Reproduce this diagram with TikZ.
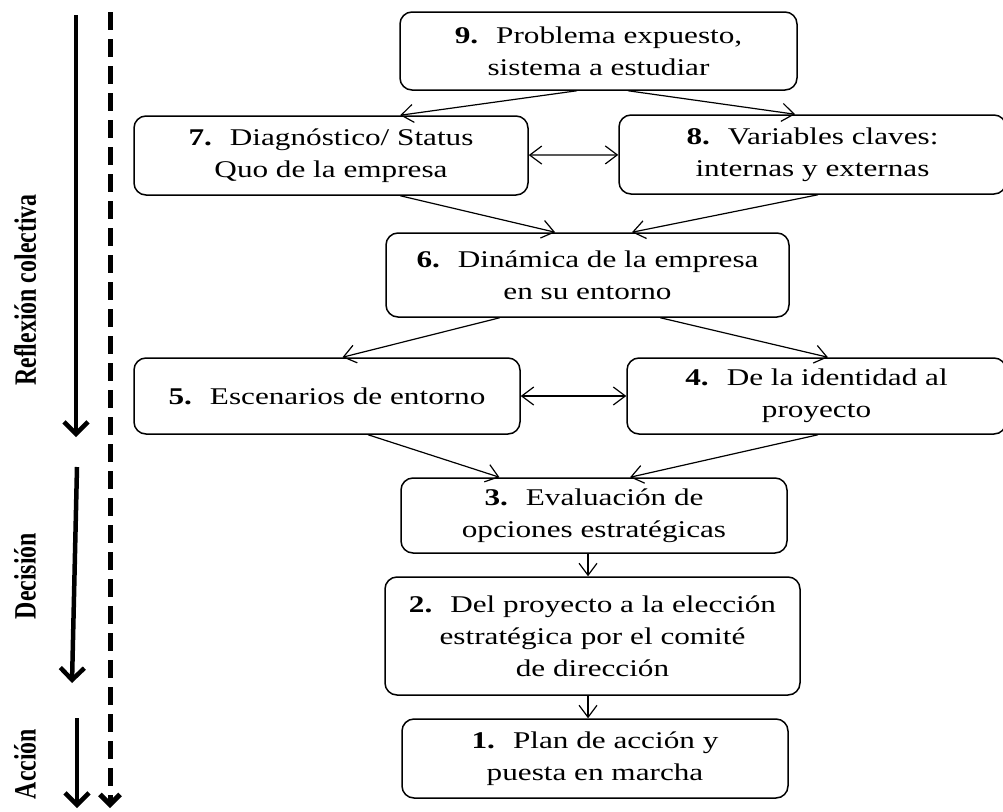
\documentclass[tikz,border=0pt]{standalone}
\usepackage{fontspec}
\setmainfont{Liberation Serif}
\newfontfamily\boxfont[FakeStretch=1.3]{Liberation Serif}
\newfontfamily\sidefont[FakeStretch=0.77]{Liberation Serif}
\usetikzlibrary{arrows.meta,positioning,calc}
\tikzset{
	stage/.style = {
		draw,
		rectangle,
		line width=1.5pt,
		rounded corners=12pt,
		align=center,
		inner sep=0pt,
		font=\boxfont\fontsize{24}{32}\selectfont
	},
	link/.style = {
		-{Straight Barb[length=12pt,width=18pt]},
		line width=1.2pt
	},
	twoway/.style = {
		{Straight Barb[length=12pt,width=18pt]}-{Straight Barb[length=12pt,width=18pt]},
		line width=1.2pt
	},
	phase/.style = {
		-{Straight Barb[length=12pt,width=24pt]},
		line width=4.5pt
	},
	track/.style = {
		-{Straight Barb[length=10pt,width=20pt]},
		line width=5pt,
		dash pattern=on 18pt off 9pt
	},
	phaselabel/.style = {
		rotate=90,
		font=\sidefont\bfseries\fontsize{31}{31}\selectfont
	}
}
\newcommand{\num}[1]{\textbf{#1}\hspace{18pt}}

\begin{document}
\begin{tikzpicture}[x=1pt,y=-1pt]
		\useasboundingbox (0,0) rectangle (1003,811);
		
		% --- Etapas ---
		\node [stage, minimum width=397pt, minimum height=78pt] (p9) at (598.5,51) {\num{9.}Problema expuesto,\\ sistema a estudiar};
		\node [stage, minimum width=394pt, minimum height=79pt] (p7) at (331,155.5) {\num{7.}Diagnóstico/ Status\\ Quo de la empresa};
		\node [stage, minimum width=387pt, minimum height=79pt] (p8) at (812.5,154.5) {\num{8.}Variables claves:\\ internas y externas};
		\node [stage, minimum width=403pt, minimum height=84pt] (p6) at (587.5,275) {\num{6.}Dinámica de la empresa\\ en su entorno};
		\node [stage, minimum width=386pt, minimum height=76pt] (p5) at (327,396) {\num{5.}Escenarios de entorno};
		\node [stage, minimum width=379pt, minimum height=76pt] (p4) at (816.5,396) {\num{4.}De la identidad al\\ proyecto};
		\node [stage, minimum width=386pt, minimum height=75pt] (p3) at (594,515.5) {\num{3.}Evaluación de\\ opciones estratégicas};
		\node [stage, minimum width=415pt, minimum height=118pt] (p2) at (592.5,636) {\num{2.}Del proyecto a la elección\\ estratégica por el comité\\ de dirección};
		\node [stage, minimum width=386pt, minimum height=79pt] (p1) at (595,758.5) {\num{1.}Plan de acción y\\ puesta en marcha};
		
		% --- Conexiones entre etapas ---
		\draw [link] ($(p9.south west)!0.446!(p9.south east)$) -- ($(p7.north west)!0.675!(p7.north east)$);
		\draw [link] ($(p9.south west)!0.574!(p9.south east)$) -- ($(p8.north west)!0.455!(p8.north east)$);
		\draw [twoway] (p7) -- (p8);
		\draw [link] ($(p7.south west)!0.675!(p7.south east)$) -- ($(p6.north west)!0.42!(p6.north east)$);
		\draw [link] ($(p8.south west)!0.514!(p8.south east)$) -- ($(p6.north west)!0.61!(p6.north east)$);
		\draw [link] ($(p6.south west)!0.283!(p6.south east)$) -- ($(p5.north west)!0.54!(p5.north east)$);
		\draw [link] ($(p6.south west)!0.68!(p6.south east)$) -- ($(p4.north west)!0.53!(p4.north east)$);
		\draw [twoway] (p5) -- (p4);
		\draw [link] ($(p5.south west)!0.606!(p5.south east)$) -- ($(p3.north west)!0.256!(p3.north east)$);
		\draw [link] ($(p4.south west)!0.504!(p4.south east)$) -- ($(p3.north west)!0.593!(p3.north east)$);
		\draw [link] (p3.south -| 588,0) -- (p2.north -| 588,0);
		\draw [link] (p2.south -| 588,0) -- (p1.north -| 588,0);
		
		% --- Fases a la izquierda ---
		\coordinate (refl top) at (76,15);
		\coordinate (refl end) at (76,437);
		\coordinate (dec top) at (77,467);
		\coordinate (dec end) at (72,683);
		\coordinate (acc top) at (77,718);
		\coordinate (acc end) at (77,808);
		\coordinate (track top) at (110,12);
		\coordinate (track end) at (110,808);
		
		\draw [phase] (refl top) -- (refl end);
		\draw [phase] (dec top) -- (dec end);
		\draw [phase] (acc top) -- (acc end);
		\draw [track] (track top) -- (track end);
		
		\node [phaselabel] (refl) at (25,290) {Reflexión colectiva};
		\node [phaselabel] (dec) at (25,576) {Decisión};
		\node [phaselabel] (acc) at (25,764) {Acción};
		
	\end{tikzpicture}
\end{document}
